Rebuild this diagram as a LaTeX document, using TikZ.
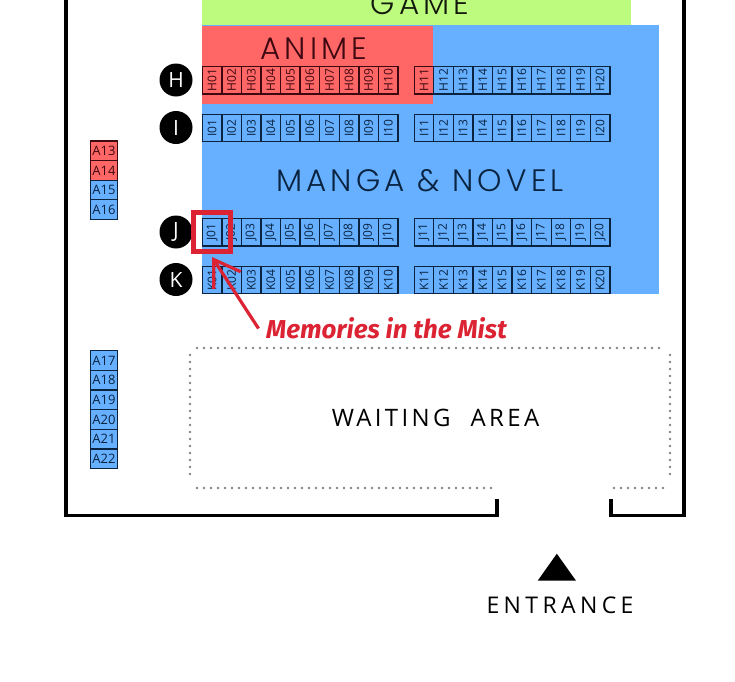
\documentclass[tikz,border=0pt]{standalone}
\usepackage{fontspec}
\usetikzlibrary{arrows.meta}
\setmainfont{Open Sans}
\newfontfamily\headfont[UprightFont=* Light,LetterSpace=13.5]{Poppins}
\newfontfamily\capsfont[LetterSpace=14]{Open Sans}
\newfontfamily\entrfont[LetterSpace=19]{Open Sans}
\newfontfamily\handfont{Fira Sans}
\definecolor{zoneblue}{HTML}{66B0FF}
\definecolor{zonered}{HTML}{FF6666}
\definecolor{zonegreen}{HTML}{BDFB7F}
\definecolor{inkblue}{HTML}{0A2340}
\definecolor{inkred}{HTML}{3E0810}
\definecolor{markred}{HTML}{DC2333}
\newcommand{\seatname}[2]{#1\ifnum#2<10 0\fi#2}
\tikzset{
  seatbase/.style={draw,line width=1.3pt,inner sep=0pt,outer sep=0pt,font=\fontsize{12}{12}\selectfont},
  blueseat/.style={seatbase,fill=zoneblue,draw=inkblue,text=inkblue},
  redseat/.style={seatbase,fill=zonered,draw=inkred,text=inkred},
  rowseat/.style={minimum width=27.2pt,minimum height=19.55pt,rotate=90},
  sideseat/.style={minimum width=27.2pt,minimum height=19.6pt,font=\fontsize{13}{13}\selectfont},
  rowdisc/.style={circle,fill=black,text=white,minimum size=33pt,inner sep=0pt,font=\fontsize{21}{21}\selectfont},
  zone/.style={inner sep=0pt,outer sep=0pt,anchor=north west},
  heading/.style={inner sep=0pt,font=\headfont\fontsize{31}{31}\selectfont},
  wall/.style={line width=3.4pt,line cap=butt,line join=miter},
  dotline/.style={line width=2.8pt,line cap=round,dash pattern=on 0pt off 7pt,color=black!48},
}
\begin{document}
\begin{tikzpicture}[x=1pt,y=-1pt]
\clip (0,0) rectangle (735,681);
\fill[white] (0,0) rectangle (735,681);
% zones
\node[zone,fill=zonegreen,minimum width=429pt,minimum height=26pt] (green) at (202,-1) {};
\node[zone,fill=zoneblue,minimum width=457pt,minimum height=269pt] (blue) at (202,25) {};
\node[zone,fill=zonered,minimum width=231pt,minimum height=78pt] (red) at (202,25.5) {};
% headings
\node[heading,text=black!90!zonegreen] (game) at (420,4) {GAME};
\node[heading,text=inkred] (anime) at (314,48.5) {ANIME};
\node[heading,text=inkblue] (manga) at (420,180.5) {MANGA \& NOVEL};
% walls
\coordinate (wa) at (66,-5);
\coordinate (wb) at (66,515.5);
\coordinate (wc) at (497,515.5);
\coordinate (wd) at (497,499);
\coordinate (we) at (611,499);
\coordinate (wf) at (611,515.5);
\coordinate (wg) at (684,515.5);
\coordinate (wh) at (684,-5);
\draw[wall] (wa) -- (wb) -- (wc) -- (wd);
\draw[wall] (we) -- (wf) -- (wg) -- (wh);
% seat rows
\foreach \row/\yy in {H/80.4,I/128.2,J/232.3,K/280.2}{
  \foreach \n in {1,...,10}{
    \pgfmathsetmacro{\xa}{202.3+19.57*(\n-0.5)}
    \node[\if H\row redseat\else blueseat\fi,rowseat] (s\row\n) at (\xa,\yy) {\seatname{\row}{\n}};
  }
  \foreach \n in {11,...,20}{
    \pgfmathsetmacro{\xa}{414.2+19.57*(\n-10.5)}
    \ifnum\n=11
      \node[\if H\row redseat\else blueseat\fi,rowseat] (s\row\n) at (\xa,\yy) {\seatname{\row}{\n}};
    \else
      \node[blueseat,rowseat] (s\row\n) at (\xa,\yy) {\seatname{\row}{\n}};
    \fi
  }
}
% row discs
\node[rowdisc] (dH) at (176,80) {H};
\node[rowdisc] (dI) at (176,127.5) {I};
\node[rowdisc] (dJ) at (176,232) {J};
\node[rowdisc] (dK) at (176,279.5) {K};
% side seats
\foreach \n/\yy/\sty in {13/150.8/redseat,14/170.4/redseat,15/190/blueseat,16/209.4/blueseat,
  17/360.5/blueseat,18/380.1/blueseat,19/399.8/blueseat,20/419.4/blueseat,21/439/blueseat,22/458.7/blueseat}{
  \node[\sty,sideseat] (a\n) at (104,\yy) {A\n};
}
% waiting area
\coordinate (la) at (190,355);
\coordinate (lb) at (190,481);
\coordinate (ta) at (197,348);
\coordinate (tb) at (666,348);
\coordinate (ra) at (670,355);
\coordinate (rb) at (670,481);
\coordinate (ba) at (197,488);
\coordinate (bb) at (497,488);
\coordinate (bc) at (614,488);
\coordinate (bd) at (664,488);
\draw[dotline] (la) -- (lb);
\draw[dotline] (ta) -- (tb);
\draw[dotline] (ra) -- (rb);
\draw[dotline] (ba) -- (bb);
\draw[dotline] (bc) -- (bd);
\node[inner sep=0pt,font=\capsfont\fontsize{24}{24}\selectfont] (wait) at (435.5,418) {WAITING\hspace{20pt}AREA};
% entrance
\coordinate (tria) at (556.8,553.7);
\coordinate (trib) at (576,580.7);
\coordinate (tric) at (537.7,580.7);
\fill[black] (tria) -- (trib) -- (tric) -- cycle;
\node[inner sep=0pt,font=\entrfont\fontsize{23}{23}\selectfont] (entr) at (560,605) {ENTRANCE};
% highlight
\node[draw=markred,line width=4.6pt,minimum width=37.5pt,minimum height=39pt,inner sep=0pt,outer sep=0pt] (jbox) at (212,232) {};
\node[inner sep=0pt,anchor=base west,text=markred,font=\handfont\bfseries\itshape\fontsize{25.9}{25.9}\selectfont] (memo) at (266,338) {Memories in the Mist};
\coordinate (tail) at (258.5,328.5);
\coordinate (tip) at (212,257);
\draw[markred,line width=3.2pt,-{Straight Barb[length=25pt,width=32pt]}] (tail) -- (tip);
\end{tikzpicture}
\end{document}
